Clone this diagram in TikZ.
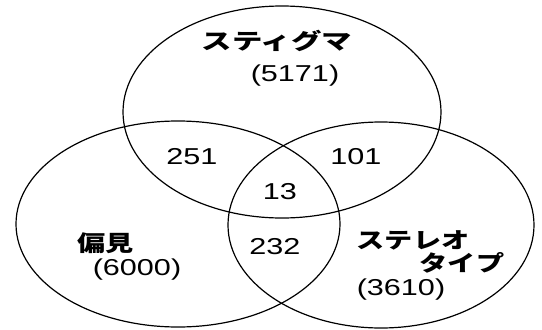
\documentclass[tikz,border=0pt]{standalone}
\usepackage{fontspec}
\setmainfont{Liberation Sans}
\newfontfamily\jp{Noto Sans CJK JP}
\begin{document}
\begin{tikzpicture}[x=1pt,y=-1pt,line width=1.2pt,
  setshape/.style={draw=black},
  countlabel/.style={inner sep=0pt,xscale=1.33,font=\fontsize{23}{23}\selectfont},
  setlabel/.style={inner sep=0pt,xscale=1.28,font=\jp\bfseries\fontsize{22}{22}\selectfont}]
\useasboundingbox (0,0) rectangle (542,330);
% the three sets
\draw[setshape] (282,112) ellipse [x radius=159pt, y radius=106pt];
\draw[setshape] (178,224) ellipse [x radius=162pt, y radius=103pt];
\draw[setshape] (381,225) ellipse [x radius=153pt, y radius=103pt];
% set names and sizes
\node[setlabel,xscale=1.08] (stigma) at (277,41) {スティグマ};
\node[countlabel] (stigman) at (295,76) {(5171)};
\node[setlabel] (henken) at (106,243) {偏見};
\node[countlabel] (henkenn) at (137,270) {(6000)};
\node[setlabel] (stereo1) at (413,240) {ステレオ};
\node[setlabel] (stereo2) at (462,263) {タイプ};
\node[countlabel] (stereon) at (401,290) {(3610)};
% overlap counts
\node[countlabel] (sh) at (192,157) {251};
\node[countlabel] (ss) at (356,157) {101};
\node[countlabel] (all) at (280,192) {13};
\node[countlabel] (hs) at (275,247) {232};
\end{tikzpicture}
\end{document}
